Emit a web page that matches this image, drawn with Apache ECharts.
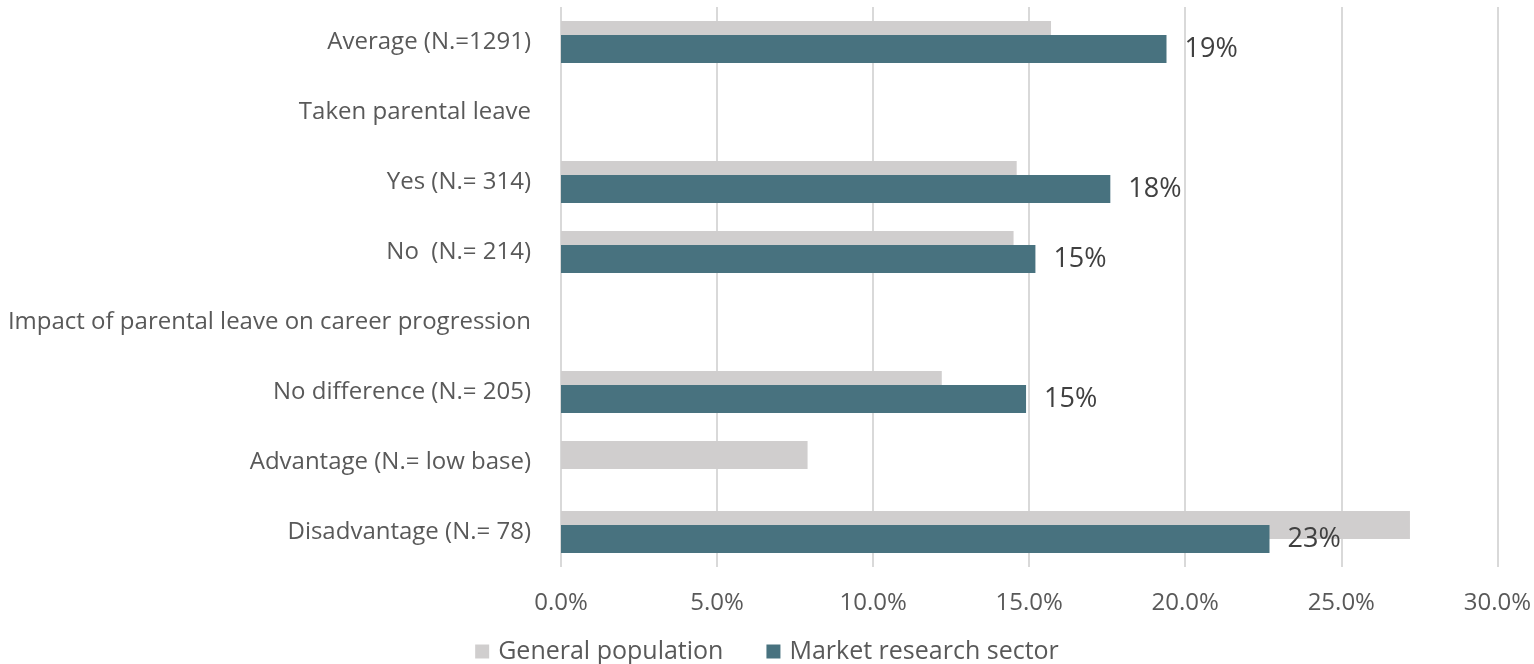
<!DOCTYPE html>
<html>
<head>
<meta charset="utf-8">
<script src="https://cdn.jsdelivr.net/npm/echarts@6/dist/echarts.min.js"></script>
<style>
  html, body { margin: 0; padding: 0; background: #fff; }
  #chart { width: 1534px; height: 664px; }
</style>
</head>
<body>
<div id="chart"></div>
<script>
// categories, top to bottom
const categories = [
    'Average (N.=1291)',
    'Taken parental leave',
    'Yes (N.= 314)',
    'No  (N.= 214)',
    'Impact of parental leave on career progression',
    'No difference (N.= 205)',
    'Advantage (N.= low base)',
    'Disadvantage (N.= 78)',
];
// values in percent, null = no bar
const generalPopulation = [15.7, null, 14.6, 14.5, null, 12.2, 7.9, 27.2];
const marketResearch = [19.4, null, 17.6, 15.2, null, 14.9, null, 22.7];
const seriesNames = ['General population', 'Market research sector'];
const xTicks = { min: 0, max: 30, interval: 5 };

const font = '"Open Sans", sans-serif';
const textColor = '#595959';

const chart = echarts.init(document.getElementById('chart'));
chart.setOption({
    animation: false,
    textStyle: { fontFamily: font },
    grid: {
        left: 561,
        right: 36,
        top: 7,
        bottom: 97,
        containLabel: false,
    },
    legend: {
        data: seriesNames,
        top: 634,
        left: 'center',
        icon: 'rect',
        itemWidth: 14,
        itemHeight: 14,
        itemGap: 43,
        textStyle: { fontSize: 25, color: textColor, fontFamily: font, padding: [0, 0, 0, 4] },
    },
    xAxis: {
        type: 'value',
        min: xTicks.min,
        max: xTicks.max,
        interval: xTicks.interval,
        axisLine: { show: false },
        axisTick: { show: false },
        axisLabel: {
            formatter: (v) => v.toFixed(1) + '%',
            fontSize: 24,
            color: textColor,
            margin: 24,
            fontFamily: font,
        },
        splitLine: { lineStyle: { color: '#d9d9d9', width: 2 } },
    },
    yAxis: {
        type: 'category',
        data: categories,
        inverse: true,
        axisLine: { show: false },
        axisTick: { show: false },
        axisLabel: {
            fontSize: 24,
            color: textColor,
            margin: 30,
            fontFamily: font,
        },
    },
    series: [
        {
            name: seriesNames[0],
            type: 'bar',
            data: generalPopulation,
            barWidth: 28,
            barGap: '-50%',
            itemStyle: { color: '#d0cece' },
        },
        {
            name: seriesNames[1],
            type: 'bar',
            data: marketResearch,
            barWidth: 28,
            barGap: '-50%',
            itemStyle: { color: '#48727f' },
            label: {
                show: true,
                position: 'right',
                distance: 18,
                formatter: (p) => Math.round(p.value) + '%',
                fontSize: 27,
                color: '#404040',
                fontFamily: font,
            },
        },
    ],
});
</script>
</body>
</html>
